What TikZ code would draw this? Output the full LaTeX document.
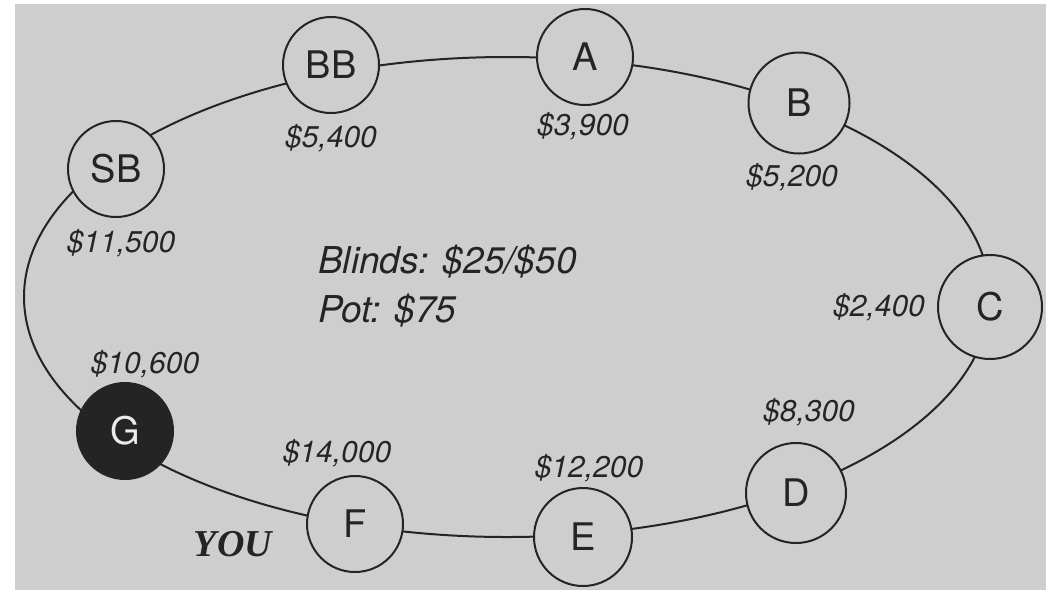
\documentclass[tikz,border=0pt]{standalone}
\usepackage{fontspec}
\setmainfont{TeX Gyre Heros}
\newfontfamily\youfont{Liberation Serif}
\definecolor{paper}{RGB}{206,206,206}
\definecolor{ink}{RGB}{36,36,36}
\pgfdeclarelayer{back}
\pgfdeclarelayer{mid}
\pgfsetlayers{back,mid,main}
\begin{document}
\begin{tikzpicture}[x=1pt,y=-1pt,
  seat/.style={circle,draw=ink,line width=2pt,fill=paper,minimum size=96pt,inner sep=0pt,
    font=\fontsize{38}{40}\selectfont,text=ink},
  hero/.style={seat,fill=ink,text=paper!40!white},
  stack/.style={anchor=base,inner sep=0pt,font=\itshape\fontsize{30}{32}\selectfont,text=ink},
  info/.style={anchor=base west,inner sep=0pt,font=\itshape\fontsize{37}{40}\selectfont,text=ink},
  tableline/.style={draw=ink,line width=2pt}]
\useasboundingbox (0,0) rectangle (1046,590);
\begin{pgfonlayer}{back}
  \fill[white] (0,0) rectangle (1046,590);
  \fill[paper] (15,4) rectangle (1046,590);
\end{pgfonlayer}
% seats
\node[seat] (SB) at (116,169) {SB};
\node[seat] (BB) at (331,65) {BB};
\node[seat] (A) at (585,57) {A};
\node[seat,minimum size=101pt] (B) at (799,103) {B};
\node[seat,minimum size=104pt] (C) at (990,307) {C};
\node[seat,minimum size=100pt] (D) at (796,493) {D};
\node[seat,minimum size=98pt] (E) at (583,537) {E};
\node[seat] (F) at (355,524) {F};
\node[hero] (G) at (125,431) {G};
\coordinate (T) at (507,297);
% table outline
\begin{pgfonlayer}{mid}
  \draw[tableline] (T) ellipse [x radius=483, y radius=240];
\end{pgfonlayer}
% chip stacks
\node[stack] (sSB) at (121,252) {\$11,500};
\node[stack] (sBB) at (331,147) {\$5,400};
\node[stack] (sA) at (583,135) {\$3,900};
\node[stack] (sB) at (792,186) {\$5,200};
\node[stack] (sC) at (879,316) {\$2,400};
\node[stack] (sD) at (809,421) {\$8,300};
\node[stack] (sE) at (589,477) {\$12,200};
\node[stack] (sF) at (337,462) {\$14,000};
\node[stack] (sG) at (145,373) {\$10,600};
\node[anchor=base,inner sep=0pt,font=\youfont\bfseries\itshape\fontsize{38}{40}\selectfont,text=ink] (you) at (233,556) {YOU};
% info
\node[info] (blinds) at (318,273) {Blinds: \$25/\$50};
\node[info] (pot) at (318,322) {Pot: \$75};
\end{tikzpicture}
\end{document}
